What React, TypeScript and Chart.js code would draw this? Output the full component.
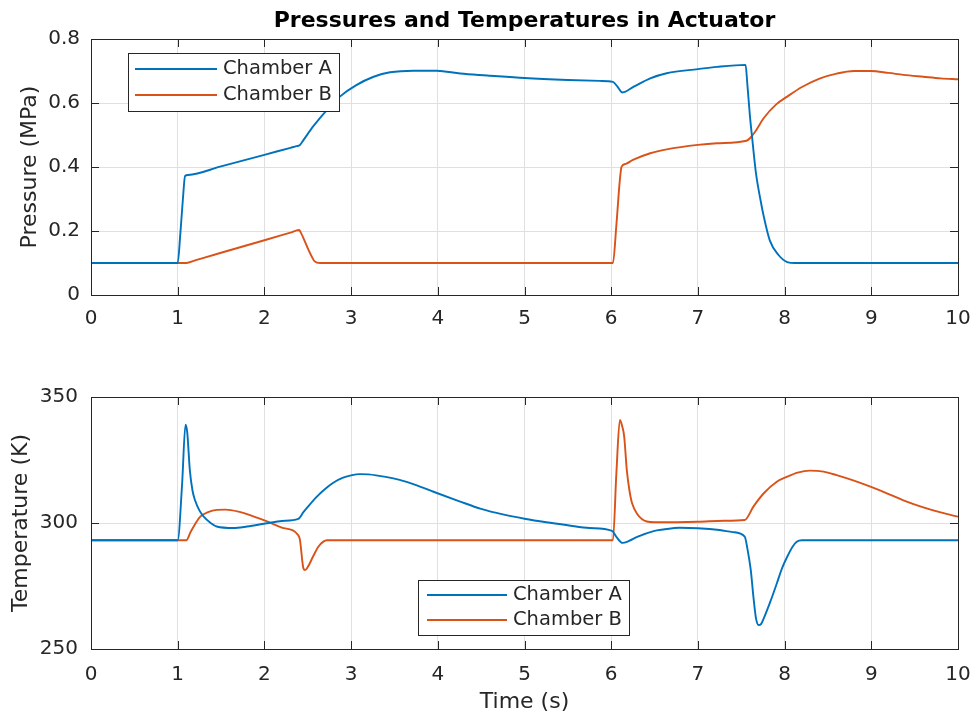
import React, { useEffect, useRef } from "react";
import { Chart, registerables } from "chart.js";

Chart.register(...registerables);

// ---------- data ----------
const chartTitle = "Pressures and Temperatures in Actuator";
const seriesNames = ["Chamber A", "Chamber B"];
const timeTicks = [0, 1, 2, 3, 4, 5, 6, 7, 8, 9, 10];
const pressureTicks = [0, 0.2, 0.4, 0.6, 0.8];
const temperatureTicks = [250, 300, 350];

const pressureATime = [0, 1.0, 1.03, 1.06, 1.085, 1.12, 1.5, 2.0, 2.3, 2.37, 2.41, 2.45, 2.56, 2.72, 2.87, 3.06, 3.26, 3.45, 3.72, 3.99, 4.26, 4.57, 5.0, 5.5, 5.87, 6.02, 6.07, 6.13, 6.26, 6.45, 6.64, 7.0, 7.22, 7.55, 7.57, 7.6, 7.63, 7.67, 7.72, 7.76, 7.83, 7.93, 8.03, 8.12, 10];
const pressureAValue = [0.1, 0.1, 0.19, 0.3, 0.372, 0.375, 0.402, 0.438, 0.46, 0.465, 0.469, 0.484, 0.526, 0.578, 0.62, 0.656, 0.682, 0.696, 0.701, 0.701, 0.692, 0.686, 0.678, 0.672, 0.669, 0.666, 0.652, 0.633, 0.651, 0.677, 0.693, 0.706, 0.713, 0.719, 0.66, 0.56, 0.48, 0.38, 0.30, 0.245, 0.17, 0.125, 0.103, 0.1, 0.1];

const pressureBTime = [0, 1.1, 1.2, 1.5, 2.0, 2.3, 2.4, 2.42, 2.45, 2.51, 2.55, 2.58, 2.64, 6.02, 6.06, 6.1, 6.12, 6.17, 6.25, 6.45, 6.64, 7.0, 7.22, 7.56, 7.6, 7.66, 7.76, 7.9, 8.03, 8.2, 8.41, 8.6, 8.8, 8.99, 9.2, 9.37, 9.6, 9.8, 10];
const pressureBValue = [0.1, 0.1, 0.108, 0.132, 0.171, 0.195, 0.203, 0.195, 0.178, 0.14, 0.118, 0.105, 0.1, 0.1, 0.22, 0.36, 0.401, 0.41, 0.422, 0.443, 0.455, 0.469, 0.474, 0.482, 0.49, 0.51, 0.553, 0.595, 0.62, 0.65, 0.677, 0.692, 0.70, 0.70, 0.694, 0.688, 0.682, 0.677, 0.674];

const temperatureATime = [0, 1.0, 1.05, 1.09, 1.11, 1.14, 1.17, 1.2, 1.25, 1.3, 1.38, 1.45, 1.64, 1.8, 2.03, 2.2, 2.39, 2.45, 2.5, 2.6, 2.7, 2.79, 2.9, 3.0, 3.1, 3.2, 3.4, 3.56, 3.75, 3.95, 4.25, 4.5, 4.75, 5.0, 5.25, 5.5, 5.75, 6.01, 6.06, 6.13, 6.2, 6.3, 6.49, 6.6, 6.79, 7.0, 7.25, 7.4, 7.54, 7.57, 7.61, 7.64, 7.67, 7.7, 7.73, 7.76, 7.83, 7.91, 7.97, 8.03, 8.09, 8.14, 8.2, 10];
const temperatureAValue = [293.15, 293.15, 315, 339, 336, 321, 313, 309, 305, 302.5, 300, 298.6, 298, 298.6, 299.9, 300.8, 301.6, 304.3, 306.4, 310.3, 313.5, 315.9, 317.9, 318.9, 319.4, 319.3, 318.3, 317.1, 315, 312.4, 308.6, 305.6, 303.4, 301.7, 300.3, 299.1, 298.0, 296.9, 294.5, 292.1, 292.8, 294.5, 296.8, 297.4, 298.1, 297.9, 297.2, 296.4, 294.6, 290, 281.3, 270.8, 262.2, 259.5, 260, 262.2, 268.3, 276, 282, 286.6, 290.5, 292.6, 293.15, 293.15];

const temperatureBTime = [0, 1.1, 1.15, 1.2, 1.26, 1.35, 1.45, 1.55, 1.7, 1.85, 2.03, 2.2, 2.39, 2.41, 2.45, 2.47, 2.5, 2.56, 2.62, 2.68, 2.72, 6.02, 6.06, 6.1, 6.13, 6.15, 6.18, 6.21, 6.24, 6.3, 6.41, 6.5, 7.0, 7.3, 7.54, 7.64, 7.76, 7.91, 8.03, 8.15, 8.29, 8.45, 8.6, 8.8, 8.99, 9.2, 9.37, 9.6, 9.8, 10];
const temperatureBValue = [293.15, 293.15, 296.5, 299.5, 302.5, 304.3, 305.2, 305.3, 304.5, 302.9, 300.6, 298.2, 295.2, 293.3, 282, 281.3, 282.5, 286.6, 290.5, 292.6, 293.15, 293.15, 320, 340.9, 338, 334.3, 321, 313, 307.9, 303.6, 300.6, 300.3, 300.5, 300.9, 301.2, 306.5, 311.8, 316.4, 318.4, 320, 320.8, 320.4, 319, 316.8, 314.4, 311.5, 309.0, 306.2, 304.2, 302.5];

// ---------- styles ----------
const BLUE = "#0072BD";
const ORANGE = "#D95319";
const AXIS = "#262626";
const GRID = "#e0e0e0";
const FONT = "'DejaVu Sans', sans-serif";

const toPoints = (xs: number[], ys: number[]) => xs.map((x, i) => ({ x, y: ys[i] }));

const framePlugin = {
  id: "matlabFrame",
  afterDatasetsDraw(chart: any, _args: any, opts: any) {
    const { ctx, chartArea: a, scales } = chart;
    const tl = opts.tickLength ?? 8;
    ctx.save();
    ctx.strokeStyle = AXIS;
    ctx.lineWidth = 1;
    ctx.beginPath();
    scales.x.ticks.forEach((t: any) => {
      const px = Math.round(scales.x.getPixelForValue(t.value)) + 0.5;
      ctx.moveTo(px, a.bottom);
      ctx.lineTo(px, a.bottom - tl);
      ctx.moveTo(px, a.top);
      ctx.lineTo(px, a.top + tl);
    });
    scales.y.ticks.forEach((t: any) => {
      const py = Math.round(scales.y.getPixelForValue(t.value)) + 0.5;
      ctx.moveTo(a.left, py);
      ctx.lineTo(a.left + tl, py);
      ctx.moveTo(a.right, py);
      ctx.lineTo(a.right - tl, py);
    });
    ctx.stroke();
    ctx.strokeRect(Math.round(a.left) + 0.5, Math.round(a.top) + 0.5, Math.round(a.right - a.left), Math.round(a.bottom - a.top));
    ctx.restore();
  },
};

const boxLegendPlugin = {
  id: "boxLegend",
  afterDraw(chart: any, _args: any, o: any) {
    if (!o || !o.display) return;
    const { ctx, chartArea: a } = chart;
    const x = Math.round(a.left + o.dx);
    const y = Math.round(a.top + o.dy);
    ctx.save();
    ctx.fillStyle = "#ffffff";
    ctx.fillRect(x, y, o.w, o.h);
    ctx.strokeStyle = AXIS;
    ctx.lineWidth = 1;
    ctx.strokeRect(x + 0.5, y + 0.5, o.w, o.h);
    ctx.font = `${o.fontSize}px ${FONT}`;
    ctx.textBaseline = "middle";
    ctx.textAlign = "left";
    chart.data.datasets.forEach((ds: any, i: number) => {
      const ry = y + o.rowTop + i * o.rowGap;
      ctx.strokeStyle = ds.borderColor;
      ctx.lineWidth = ds.borderWidth;
      ctx.beginPath();
      ctx.moveTo(x + o.lineStart, ry);
      ctx.lineTo(x + o.lineEnd, ry);
      ctx.stroke();
      ctx.fillStyle = AXIS;
      ctx.fillText(ds.label, x + o.textStart, ry);
    });
    ctx.restore();
  },
};

const axesTitlePlugin = {
  id: "axesTitle",
  afterDraw(chart: any, _args: any, o: any) {
    if (!o || !o.text) return;
    const { ctx, chartArea: a } = chart;
    ctx.save();
    ctx.font = `bold ${o.fontSize}px ${FONT}`;
    ctx.fillStyle = "#000";
    ctx.textAlign = "center";
    ctx.textBaseline = "middle";
    ctx.fillText(o.text, (a.left + a.right) / 2, o.y);
    ctx.restore();
  },
};

type Cfg = {
  aX: number[]; aY: number[]; bX: number[]; bY: number[];
  yTicks: number[]; yTitle: string; yTitlePad: number; yTickPad: number;
  xTitle?: string; xTickPad: number; xHeight: number; padTop: number;
  legend: any; title?: string;
};

function buildConfig(c: Cfg): any {
  const lineStyle = { borderWidth: 1.9, pointRadius: 0, cubicInterpolationMode: "monotone", fill: false };
  return {
    type: "line",
    data: {
      datasets: [
        { label: seriesNames[0], data: toPoints(c.aX, c.aY), borderColor: BLUE, backgroundColor: BLUE, ...lineStyle },
        { label: seriesNames[1], data: toPoints(c.bX, c.bY), borderColor: ORANGE, backgroundColor: ORANGE, ...lineStyle },
      ],
    },
    options: {
      animation: false,
      responsive: false,
      devicePixelRatio: 1,
      events: [],
      layout: { padding: { left: 0, right: 16, top: c.padTop, bottom: 0 } },
      scales: {
        x: {
          type: "linear",
          min: timeTicks[0],
          max: timeTicks[timeTicks.length - 1],
          afterBuildTicks: (s: any) => { s.ticks = timeTicks.map((v) => ({ value: v })); },
          afterFit: (s: any) => { s.height = c.xHeight; s.paddingLeft = 0; s.paddingRight = 0; },
          grid: { color: GRID, drawTicks: false, lineWidth: 1 },
          border: { display: false },
          ticks: { color: AXIS, font: { family: FONT, size: 20 }, padding: c.xTickPad, maxRotation: 0, autoSkip: false, callback: (v: any) => String(v) },
          title: c.xTitle
            ? { display: true, text: c.xTitle, color: AXIS, font: { family: FONT, size: 22 }, padding: { top: 0, bottom: 3 } }
            : { display: false },
        },
        y: {
          type: "linear",
          min: c.yTicks[0],
          max: c.yTicks[c.yTicks.length - 1],
          afterBuildTicks: (s: any) => { s.ticks = c.yTicks.map((v) => ({ value: v })); },
          afterFit: (s: any) => { s.width = 91; s.paddingTop = 0; s.paddingBottom = 0; },
          grid: { color: GRID, drawTicks: false, lineWidth: 1 },
          border: { display: false },
          ticks: { color: AXIS, font: { family: FONT, size: 20 }, padding: c.yTickPad, autoSkip: false, callback: (v: any) => String(v) },
          title: { display: true, text: c.yTitle, color: AXIS, font: { family: FONT, size: 22 }, padding: { top: c.yTitlePad, bottom: 0 } },
        },
      },
      plugins: {
        legend: { display: false },
        tooltip: { enabled: false },
        title: { display: false },
        matlabFrame: { tickLength: 8 },
        boxLegend: c.legend,
        axesTitle: c.title ? { text: c.title, fontSize: 22, y: 21 } : {},
      },
    },
    plugins: [framePlugin, boxLegendPlugin, axesTitlePlugin],
  };
}

export default function App() {
  const topRef = useRef<HTMLCanvasElement | null>(null);
  const botRef = useRef<HTMLCanvasElement | null>(null);

  useEffect(() => {
    const top = new Chart(topRef.current as HTMLCanvasElement, buildConfig({
      aX: pressureATime, aY: pressureAValue, bX: pressureBTime, bY: pressureBValue,
      yTicks: pressureTicks, yTitle: "Pressure (MPa)", yTitlePad: 17, yTickPad: 11,
      xTickPad: 12, xHeight: 50, padTop: 39, title: chartTitle,
      legend: { display: true, dx: 37, dy: 14, w: 211, h: 58, rowTop: 16, rowGap: 26, lineStart: 7, lineEnd: 89, textStart: 95, fontSize: 19.5 },
    }));
    const bottom = new Chart(botRef.current as HTMLCanvasElement, buildConfig({
      aX: temperatureATime, aY: temperatureAValue, bX: temperatureBTime, bY: temperatureBValue,
      yTicks: temperatureTicks, yTitle: "Temperature (K)", yTitlePad: 8, yTickPad: 13,
      xTitle: "Time (s)", xTickPad: 14, xHeight: 69, padTop: 52,
      legend: { display: true, dx: 327, dy: 183, w: 211, h: 55, rowTop: 15, rowGap: 25, lineStart: 9, lineEnd: 89, textStart: 95, fontSize: 19.5 },
    }));
    return () => { top.destroy(); bottom.destroy(); };
  }, []);

  return (
    <div style={{ position: "fixed", left: 0, top: 0, width: 974, height: 718, background: "#ffffff" }}>
      <canvas ref={topRef} width={974} height={345} style={{ position: "absolute", left: 0, top: 0, width: 974, height: 345, display: "block" }} />
      <canvas ref={botRef} width={974} height={373} style={{ position: "absolute", left: 0, top: 345, width: 974, height: 373, display: "block" }} />
    </div>
  );
}
